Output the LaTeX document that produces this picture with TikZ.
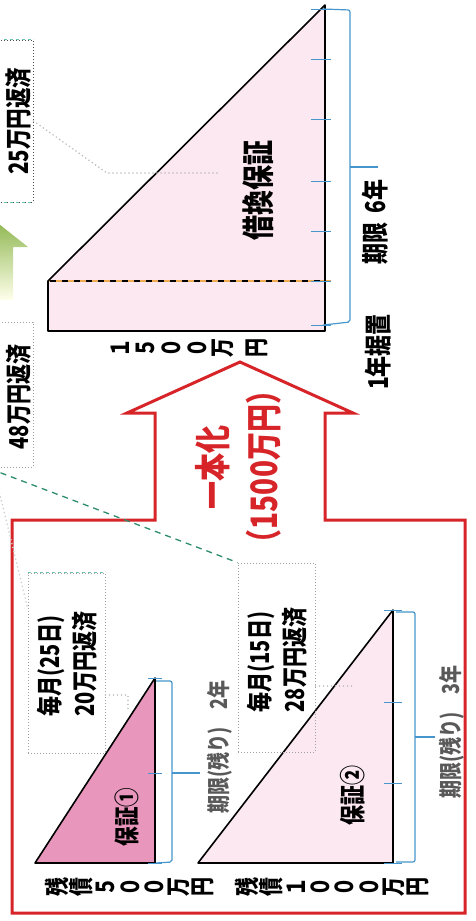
\documentclass[tikz,border=0pt]{standalone}
\usepackage{fontspec}
\newfontfamily\jp{Noto Sans CJK JP}
\usetikzlibrary{positioning}

\definecolor{frameRed}{RGB}{214,36,40}
\definecolor{paleRose}{RGB}{251,232,240}
\definecolor{deepRose}{RGB}{232,150,188}
\definecolor{tickBlue}{RGB}{70,150,205}
\definecolor{noteGray}{RGB}{160,160,160}
\definecolor{noteTeal}{RGB}{105,195,175}
\definecolor{leadGreen}{RGB}{45,140,105}
\definecolor{arrowGreen}{RGB}{120,168,50}
\definecolor{holdOrange}{RGB}{240,170,80}

\newcommand{\jpsize}[2]{\jp\bfseries\fontsize{#1}{#2}\selectfont}

\begin{document}
\begin{tikzpicture}[
      x=1pt, y=-1pt,
      every node/.style={inner sep=0pt},
      jtext/.style={rotate=90, yscale=1.3, align=center},
      outline/.style={draw=black, line width=1.6, line join=round},
      tick/.style={draw=tickBlue, line width=1},
      bracket/.style={draw=tickBlue, line width=1.2, rounded corners=2},
      memo/.style={draw=noteGray, line width=1, dash pattern=on 1pt off 2pt,
            minimum width=77, minimum height=#1},
      tealedge/.style={draw=noteTeal, line width=1, dash pattern=on 3pt off 3pt},
      lead/.style={draw=noteGray!70, line width=1.8, line cap=round,
            dash pattern=on 0pt off 4pt}
]
\useasboundingbox (0,0) rectangle (476,921);

% notes on the far left
\shade[top color=arrowGreen, middle color=arrowGreen!60!yellow, bottom color=yellow!8!white]
      (-25,205) -- (28,247) -- (13,247) -- (13,300) -- (-25,300) -- cycle;
\node[memo=162, draw=black!70] (memo25) at (-5.5,121) {};
\draw[tealedge] (memo25.north west) -- (memo25.north east);
\draw[tealedge] (memo25.south west) -- (memo25.south east);
\node[jtext, font=\jpsize{20.5}{24}] (pay25) at (19,121) {25万円返済};
\node[memo=145] (memo48) at (-5.5,394.5) {};
\node[jtext, font=\jpsize{20}{24}] (pay48) at (19,397) {48万円返済};

% consolidated guarantee
\fill[paleRose] (48,281) -- (325,5) -- (325,331) -- (48,331) -- cycle;
\draw[holdOrange, line width=1.5] (48,281) -- (331,281);
\draw[black, line width=1.5, dash pattern=on 6pt off 6pt] (50,281) -- (325,281);
\draw[outline] (48,331) -- (48,281) -- (325,5) -- (325,331) -- cycle;
\foreach \y in {9,59,119,181,231,281,325}
      \draw[tick] (311,\y) -- (331,\y);
\draw[bracket] (323,9) -- (350,10) -- (350,322) -- (323,325);
\draw[bracket] (350,167) -- (378,167);
\node[jtext, font=\jpsize{25}{30}] (refi) at (258,190) {借換保証};
\node[jtext, font=\jpsize{21}{25}] (term6) at (375,222) {期限\hspace{0.45em}6年};
\node[jtext, font=\jpsize{21}{25}] (defer) at (378,352) {1年据置};
\foreach \ch/\x [count=\i] in {１/120,５/145,０/171,０/197,万/223,円/257}
      \node[jtext, font=\jpsize{19}{19}] (sum-\i) at (\x,348) {\ch};

% red frame with arrow
\draw[frameRed, line width=3, line join=miter]
      (12,913) -- (12,520) -- (155,520) -- (155,413) -- (127,413) -- (240,362)
      -- (353,413) -- (325,413) -- (325,520) -- (465,520) -- (465,913) -- cycle;
\node[jtext, text=frameRed, font=\jpsize{28}{39}] (merge) at (238,467)
      {一本化\\（1500万円）};

% guarantee 1
\fill[deepRose] (35,863) -- (155,678) -- (155,863) -- cycle;
\draw[outline] (35,863) -- (155,678) -- (155,863) -- cycle;
\foreach \y in {678,773,863}
      \draw[tick] (148,\y) -- (162,\y);
\draw[bracket] (156,681) -- (172,681) -- (172,862) -- (156,863);
\draw[bracket] (172,773) -- (200,773);
\node[jtext, font=\jpsize{19.5}{24}] (g1) at (127,817) {保証①};
\node[jtext, text=black!65, font=\jpsize{18}{22}] (term2) at (220,747) {期限(残り)　2年};
\node[memo=180] (memo20) at (66.5,663) {};
\draw[tealedge] (memo20.north west) -- (memo20.north east);
\node[jtext, align=left, font=\jpsize{20}{27}] (pay20) at (67.5,664)
      {毎月(25日)\\20万円返済};
\draw[lead] (memo20.east |- 0,695) -- (128,695) -- (128,712);

% guarantee 2
\fill[paleRose] (198,863) -- (393,610) -- (393,863) -- cycle;
\draw[outline] (198,863) -- (393,610) -- (393,863) -- cycle;
\foreach \y in {610,702,783,863}
      \draw[tick] (384,\y) -- (402,\y);
\draw[bracket] (396,612) -- (415,612) -- (415,862) -- (396,862);
\draw[bracket] (415,737) -- (435,737);
\node[jtext, font=\jpsize{20}{24}] (g2) at (353,795) {保証②};
\node[jtext, text=black!65, font=\jpsize{18}{22}] (term3) at (452,732) {期限(残り)　3年};
\node[memo=189] (memo28) at (276.5,657.5) {};
\node[jtext, align=left, font=\jpsize{20}{27}] (pay28) at (277,660)
      {毎月(15日)\\28万円返済};
\draw[lead] (memo28.east |- 0,686) -- (355,686);

% balances
\foreach \ch [count=\i from 0] in {残,債,５,０,０,万,円}
      \node[jtext, font=\jpsize{19}{19}] (bal5-\i) at (57+24.3*\i,887) {\ch};
\foreach \ch [count=\i from 0] in {残,債,１,０,０,０,万,円}
      \node[jtext, font=\jpsize{19}{19}] (bal10-\i) at (247+24.4*\i,887) {\ch};

% leaders between notes
\coordinate (from48) at (-20,465);
\coordinate (from48b) at (-8,462);
\draw[lead] (memo25.east) -- (107,173) -- (217,173);
\draw[draw=leadGreen, line width=1.3, dash pattern=on 6pt off 5pt] (from48) -- (memo28.north west);
\draw[lead, draw=noteGray!50] (from48b) -- ([yshift=-35pt]memo20.north west);
\end{tikzpicture}
\end{document}
